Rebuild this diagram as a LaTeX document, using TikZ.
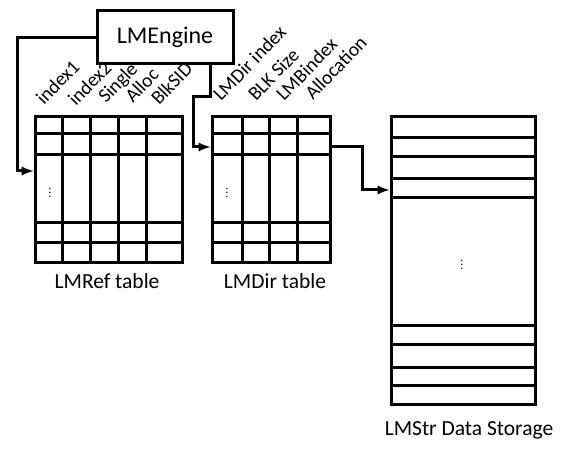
\documentclass[tikz,border=0pt]{standalone}
\usepackage{amsmath}
\usepackage{fontspec}
\setmainfont{Carlito}
\usepackage{tikz}
\usetikzlibrary{positioning, shapes, arrows}

\tikzset{
  tbl/.style={draw, line width=3pt, inner sep=0pt},
  hdr/.style={rotate=46, anchor=base west, inner sep=0pt, font=\fontsize{19.5}{19.5}\selectfont},
  lbl/.style={font=\fontsize{21.5}{21.5}\selectfont},
  dts/.style={font=\large\boldmath},
  conn/.style={line width=3pt, -latex}
}

\begin{document}
\begin{tikzpicture}[x=1pt, y=1pt, line width=3pt]
  \useasboundingbox (0,0) rectangle (567,454);
  % engine
  \node[tbl, minimum width=136pt, minimum height=53pt, font=\fontsize{24}{24}\selectfont] (e) at (165,416.5) {LMEngine};
  % tables
  \node[tbl, minimum width=147pt, minimum height=146pt] (r) at (108.5,264) {};
  \node[tbl, minimum width=118pt, minimum height=146pt] (d) at (271,264) {};
  \node[tbl, minimum width=144pt, minimum height=288pt] (s) at (463,193) {};
  % LMRef grid
  \draw (62,191) -- (62,337) (90,191) -- (90,337) (118,191) -- (118,337) (146,191) -- (146,337);
  \draw (35,320) -- (182,320) (35,299) -- (182,299) (35,231) -- (182,231) (35,211) -- (182,211);
  % LMDir grid
  \draw (242,191) -- (242,337) (269,191) -- (269,337) (297,191) -- (297,337);
  \draw (212,320) -- (330,320) (212,299) -- (330,299) (212,231) -- (330,231) (212,211) -- (330,211);
  % storage rows
  \draw (391,316) -- (535,316) (391,297) -- (535,297) (391,275) -- (535,275) (391,256) -- (535,256);
  \draw (391,128) -- (535,128) (391,109) -- (535,109) (391,86) -- (535,86) (391,68) -- (535,68);
  % dots
  \node[dts] (rv) at (50,264) {$\vdots$};
  \node[dts] (dv) at (227,264) {$\vdots$};
  \node[dts] (sv) at (462,192) {$\vdots$};
  % headers
  \node[hdr] (h1) at (43,347) {index1};
  \node[hdr] (h2) at (75,346) {index2};
  \node[hdr] (h3) at (105,349) {Single};
  \node[hdr] (h4) at (132,349) {Alloc};
  \node[hdr] (h5) at (158,347) {BlkSID};
  \node[hdr] (g1) at (220,351) {LMDir index};
  \node[hdr] (g2) at (255,351) {BLK Size};
  \node[hdr] (g3) at (283,351) {LMBindex};
  \node[hdr] (g4) at (312,352) {Allocation};
  % captions
  \node[lbl] (rl) at (107,173) {LMRef table};
  \node[lbl] (dl) at (275,173) {LMDir table};
  \node[lbl] (sl) at (469,24) {LMStr Data Storage};
  % connectors
  \coordinate (k1) at (17,283);
  \coordinate (k2) at (210,357);
  \coordinate (k3) at (193,307);
  \coordinate (k4) at (362,264);
  \draw[conn] (e.west) -| (k1) -- (k1 -| r.west);
  \draw[conn] (k2 |- e.south) -- (k2) -| (k3) -- (k3 -| d.west);
  \draw[conn] (d.east |- k3) -| (k4) -- (k4 -| s.west);
\end{tikzpicture}
\end{document}
